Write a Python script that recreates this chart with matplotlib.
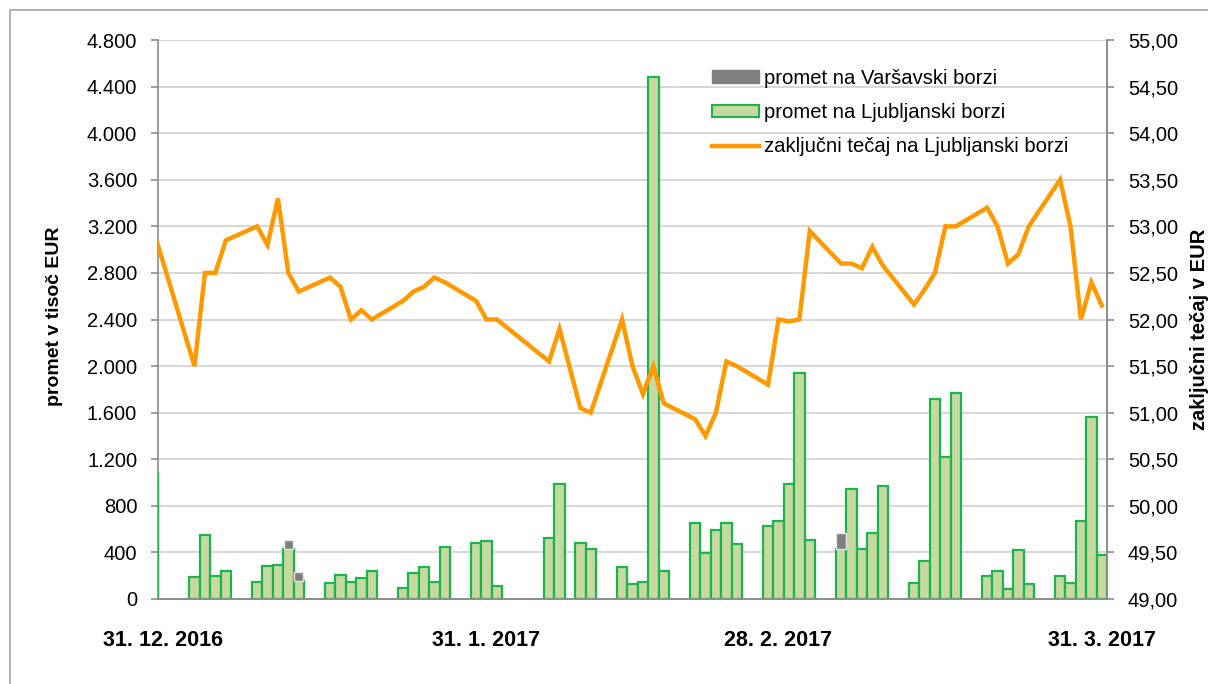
import numpy as np
import matplotlib
matplotlib.use('Agg')
import matplotlib.pyplot as plt
from matplotlib.patches import Patch, Rectangle
from matplotlib.lines import Line2D
from matplotlib.ticker import FuncFormatter

plt.rcParams['font.family'] = ['Liberation Sans', 'DejaVu Sans']

# trading days (Ljubljana stock exchange)
dates = ['2016-12-30',
         '2017-01-03', '2017-01-04', '2017-01-05', '2017-01-06',
         '2017-01-09', '2017-01-10', '2017-01-11', '2017-01-12', '2017-01-13',
         '2017-01-16', '2017-01-17', '2017-01-18', '2017-01-19', '2017-01-20',
         '2017-01-23', '2017-01-24', '2017-01-25', '2017-01-26', '2017-01-27',
         '2017-01-30', '2017-01-31', '2017-02-01',
         '2017-02-06', '2017-02-07', '2017-02-09', '2017-02-10',
         '2017-02-13', '2017-02-14', '2017-02-15', '2017-02-16', '2017-02-17',
         '2017-02-20', '2017-02-21', '2017-02-22', '2017-02-23', '2017-02-24',
         '2017-02-27', '2017-02-28', '2017-03-01', '2017-03-02', '2017-03-03',
         '2017-03-06', '2017-03-07', '2017-03-08', '2017-03-09', '2017-03-10',
         '2017-03-13', '2017-03-14', '2017-03-15', '2017-03-16', '2017-03-17',
         '2017-03-20', '2017-03-21', '2017-03-22', '2017-03-23', '2017-03-24',
         '2017-03-27', '2017-03-28', '2017-03-29', '2017-03-30', '2017-03-31']

# turnover on Ljubljana stock exchange (thousand EUR)
promet_lj = [1080,
             185, 550, 200, 240,
             146, 283, 292, 432, 155,
             140, 205, 150, 183, 240,
             92, 221, 272, 146, 444,
             478, 501, 114,
             521, 988, 484, 427,
             277, 126, 143, 4480, 243,
             650, 393, 593, 650, 470,
             627, 673, 988, 1944, 507,
             427, 942, 427, 564, 971,
             135, 326, 1715, 1217, 1767,
             198, 238, 86, 421, 129,
             198, 135, 673, 1561, 378]

# turnover on Warsaw stock exchange (thousand EUR)
promet_wa = [0,
             0, 0, 0, 0,
             0, 0, 0, 75, 80,
             0, 0, 0, 0, 0,
             0, 0, 0, 0, 0,
             0, 0, 0,
             0, 0, 0, 0,
             0, 0, 0, 0, 0,
             0, 0, 0, 0, 0,
             0, 0, 0, 0, 0,
             143, 0, 0, 0, 0,
             0, 0, 0, 0, 0,
             0, 0, 0, 0, 0,
             0, 0, 0, 0, 0]

# closing price (EUR)
tecaj = [52.98,
         51.50, 52.50, 52.50, 52.85,
         53.00, 52.80, 53.30, 52.50, 52.30,
         52.45, 52.35, 52.00, 52.10, 52.00,
         52.20, 52.30, 52.35, 52.45, 52.40,
         52.20, 52.00, 52.00,
         51.55, 51.90, 51.05, 51.00,
         52.00, 51.50, 51.20, 51.50, 51.10,
         50.93, 50.75, 51.00, 51.55, 51.50,
         51.30, 52.00, 51.98, 52.00, 52.95,
         52.60, 52.60, 52.55, 52.78, 52.58,
         52.16, 52.32, 52.50, 53.00, 53.00,
         53.20, 53.00, 52.60, 52.70, 53.00,
         53.50, 53.00, 52.00, 52.40, 52.15]

tick_dates = ['2016-12-31', '2017-01-31', '2017-02-28', '2017-03-31']
tick_labels = ['31. 12. 2016', '31. 1. 2017', '28. 2. 2017', '31. 3. 2017']

start = np.datetime64('2016-12-31')
x = (np.array(dates, dtype='datetime64[D]') - start).astype(int)
xt = (np.array(tick_dates, dtype='datetime64[D]') - start).astype(int)
promet_lj = np.array(promet_lj)
promet_wa = np.array(promet_wa)

green_fill = '#c6d9a0'
green_edge = '#1db34f'
gray_bar = '#7f7f7f'
orange = '#ff9900'
axis_gray = '#8c8c8c'
grid_gray = '#d4d4d4'

fig = plt.figure(figsize=(12.08, 6.84), dpi=100)
ax = fig.add_axes([158 / 1208, 1 - 599 / 684, (1107 - 158) / 1208, (599 - 40) / 684])
ax2 = ax.twinx()

ax.bar(x, promet_lj, width=1.0, color=green_fill, edgecolor=green_edge, linewidth=1.6, zorder=3)
mask = promet_wa > 0
ax.bar(x[mask], promet_wa[mask], bottom=promet_lj[mask], width=0.9, color=gray_bar,
       edgecolor='#e8e8e8', linewidth=1.0, zorder=3)

ax2.plot(x, tecaj, color=orange, linewidth=3.2, solid_joinstyle='miter', zorder=4)

ax.set_xlim(-0.5, 90.5)
ax.set_ylim(0, 4800)
ax2.set_ylim(49, 55)
ax.set_yticks(np.arange(0, 4801, 400))
ax2.set_yticks(np.arange(49, 55.01, 0.5))
ax.yaxis.set_major_formatter(FuncFormatter(lambda v, p: '{:,.0f}'.format(v).replace(',', '.')))
ax2.yaxis.set_major_formatter(FuncFormatter(lambda v, p: '{:.2f}'.format(v).replace('.', ',')))

ax.set_xticks(xt)
ax.set_xticklabels(tick_labels, fontsize=15.5, fontweight='bold')
ax.tick_params(axis='x', length=0, pad=22)
ax.tick_params(axis='y', labelsize=14.5, length=5, color=axis_gray, pad=10, width=1.2)
ax2.tick_params(axis='y', labelsize=14.5, length=5, color=axis_gray, pad=10, width=1.2)

ax.grid(axis='y', color=grid_gray, linewidth=1.3, zorder=0)
ax.set_axisbelow(True)
for a in (ax, ax2):
    a.spines['top'].set_visible(False)
    for s in ('left', 'right', 'bottom'):
        a.spines[s].set_color(axis_gray)
        a.spines[s].set_linewidth(1.2)
# keep the clipped first bar visible on the left axis line
ax.spines['left'].set_zorder(1)
ax2.spines['left'].set_visible(False)

fig.text(55 / 1208, 1 - 316 / 684, 'promet v tisoč EUR', rotation=90, fontsize=14,
         fontweight='bold', ha='center', va='center')
fig.text(1190 / 1208, 1 - 329 / 684, 'zaključni tečaj v EUR', rotation=90, fontsize=14.5,
         fontweight='bold', ha='left', va='center')

handles = [Patch(facecolor=gray_bar, edgecolor=gray_bar),
           Patch(facecolor=green_fill, edgecolor=green_edge, linewidth=1.5),
           Line2D([0], [0], color=orange, linewidth=3.2)]
labels = ['promet na Varšavski borzi', 'promet na Ljubljanski borzi',
          'zaključni tečaj na Ljubljanski borzi']
ax2.legend(handles, labels, loc='upper left', bbox_to_anchor=(712 / 1208, 1 - 69 / 684),
           bbox_transform=fig.transFigure, frameon=False, fontsize=14.6, borderpad=0,
           borderaxespad=0, handlelength=2.3, handleheight=0.6, handletextpad=0.25,
           labelspacing=0.75)

# outer frame of the chart
fig.patches.append(Rectangle((10 / 1208, -0.1), 1.2, 1.1 - 10 / 684, transform=fig.transFigure,
                             fill=False, edgecolor='#a6a6a6', linewidth=1.2))

fig.savefig('out.png', dpi=100)
